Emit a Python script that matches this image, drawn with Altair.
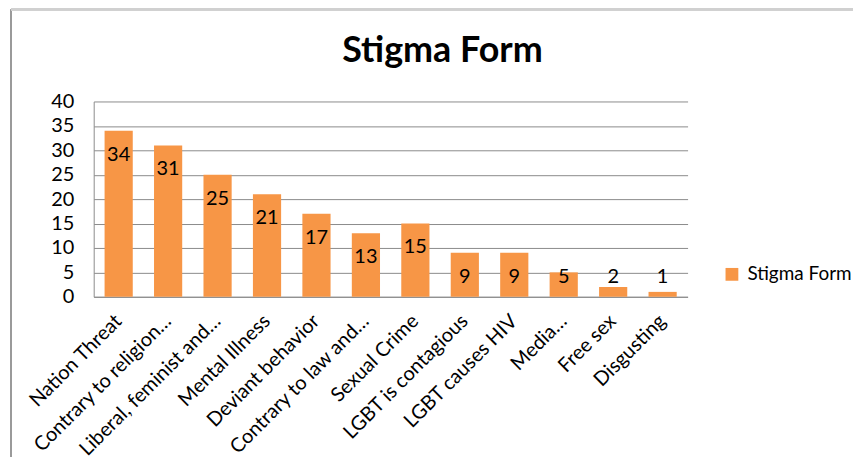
import altair as alt
import pandas as pd

categories = [
    "Nation Threat", "Contrary to religion…", "Liberal, feminist and…",
    "Mental Illness", "Deviant behavior", "Contrary to law and…",
    "Sexual Crime", "LGBT is contagious", "LGBT causes HIV", "Media…",
    "Free sex", "Disgusting",
]
values = [34, 31, 25, 21, 17, 13, 15, 9, 9, 5, 2, 1]
series = ["Stigma Form"] * len(values)
y_ticks = [0, 5, 10, 15, 20, 25, 30, 35, 40]
chart_title = ["Stigma Form"]

df = pd.DataFrame({"category": categories, "value": values, "series": series})
title_df = pd.DataFrame({"t": chart_title})

FONT = "Lato"
ORANGE = "#F79646"
GRID = "#8C8C8C"
FS = 20

x_axis = alt.Axis(labelAngle=-45, labelAlign="right", labelBaseline="middle",
                  labelFontSize=FS, labelFont=FONT, labelColor="#000000",
                  ticks=False, labelPadding=21, domainColor=GRID,
                  labelLimit=300)
y_axis = alt.Axis(values=y_ticks, tickCount=9, grid=True, gridColor=GRID,
                  gridWidth=1, ticks=False, labelPadding=20,
                  labelFontSize=FS, labelFont=FONT, labelColor="#000000",
                  labelOverlap=False, domainColor=GRID)
x_scale = alt.Scale(paddingInner=0.43, paddingOuter=0.22)
y_scale = alt.Scale(domain=[0, 40], nice=False)

bars = alt.Chart(df).mark_bar(color=ORANGE).encode(
    x=alt.X("category:N", sort=categories, title=None, scale=x_scale, axis=x_axis),
    y=alt.Y("value:Q", title=None, scale=y_scale, axis=y_axis),
    color=alt.Color("series:N", title=None,
                    scale=alt.Scale(range=[ORANGE]),
                    legend=alt.Legend(orient="none", legendX=631, legendY=164,
                                      symbolType="square", symbolSize=165,
                                      symbolStrokeWidth=0, labelFontSize=19,
                                      labelFont=FONT, labelColor="#000000",
                                      labelOffset=6, labelLimit=300)),
)

labels = alt.Chart(df).transform_calculate(
    pos="max(datum.value - 4.9, 4.1)"
).mark_text(fontSize=FS, font=FONT, color="#000000", baseline="middle").encode(
    x=alt.X("category:N", sort=categories, title=None, scale=x_scale, axis=x_axis),
    y=alt.Y("pos:Q", title=None, scale=y_scale, axis=y_axis),
    text="value:Q",
)

title = alt.Chart(title_df).mark_text(
    fontSize=36, font=FONT, fontWeight="bold", color="#000000",
    baseline="middle", align="center",
).encode(x=alt.value(350), y=alt.value(-51), text="t:N")

border_left = alt.Chart(df).mark_rule(color="#9A9A9A", strokeWidth=1.5).encode(
    x=alt.value(-83), y=alt.value(-92), y2=alt.value(400))
border_top = alt.Chart(df).mark_rule(color="#D0D0D0", strokeWidth=2).encode(
    x=alt.value(-83), x2=alt.value(800), y=alt.value(-92))

chart = alt.layer(bars, labels, title, border_left, border_top).properties(
    width=596, height=196,
    autosize=alt.AutoSizeParams(type="none"),
    padding={"left": 86, "top": 93, "right": 166, "bottom": 160},
).configure_view(stroke=None)

chart.save("out.html", embed_options={"renderer": "svg", "actions": False})
